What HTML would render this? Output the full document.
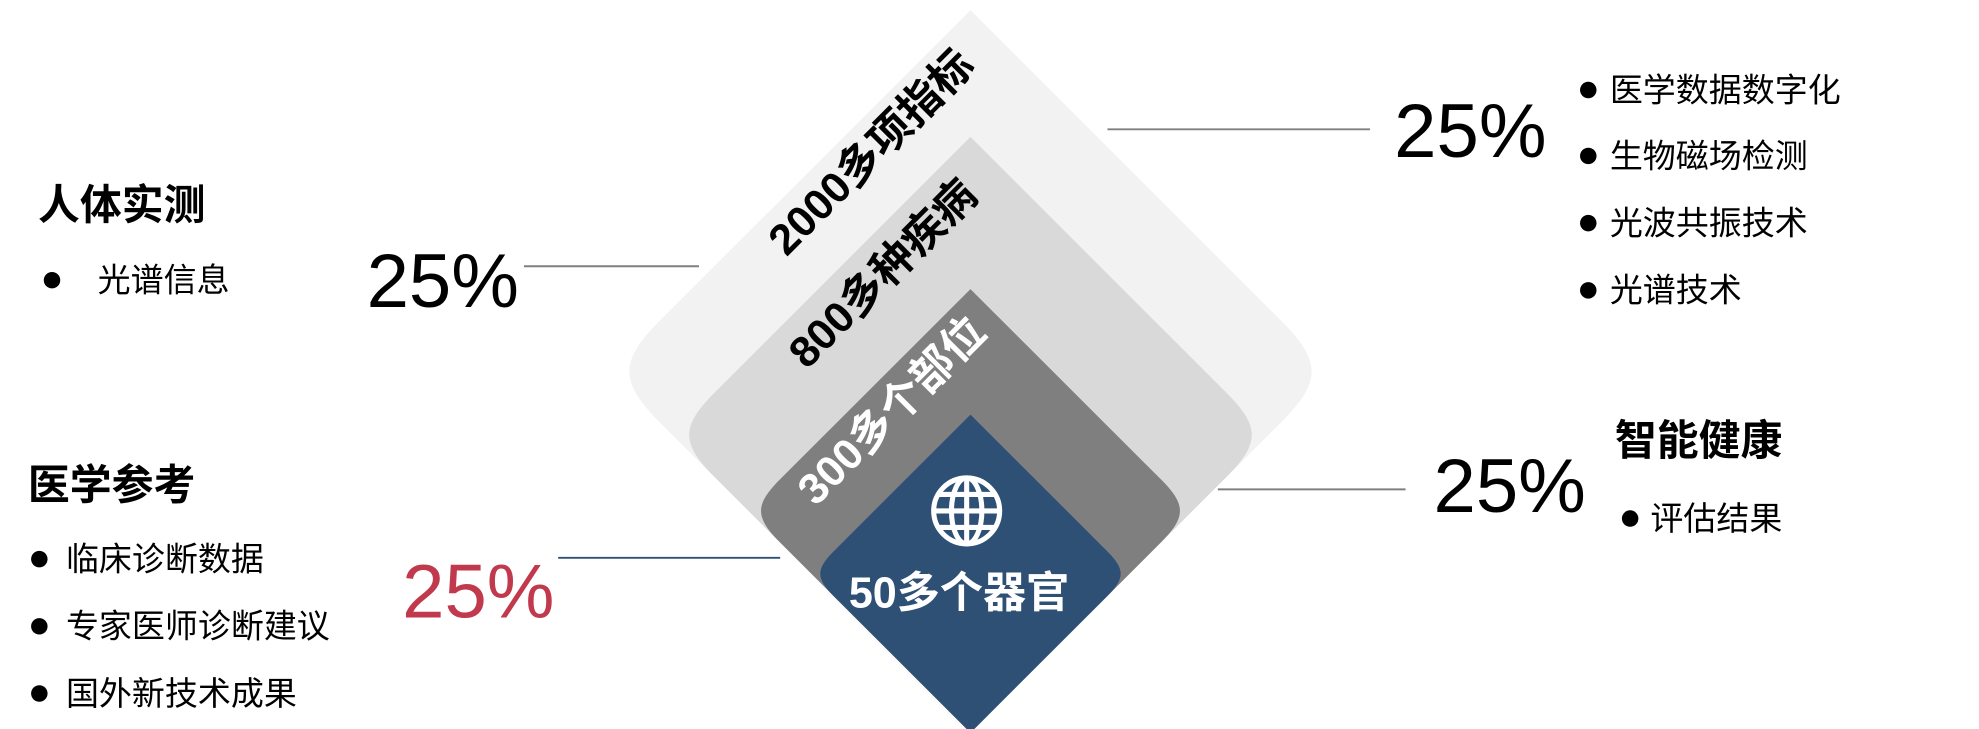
<!DOCTYPE html>
<html><head><meta charset="utf-8"><style>
html,body{margin:0;padding:0;background:#fff;}
svg{display:block;}
text{font-family:"Liberation Sans","Noto Sans CJK SC",sans-serif;}
</style></head><body>
<svg id="chart" width="1979" height="729" viewBox="0 0 1560 575" preserveAspectRatio="none" xmlns="http://www.w3.org/2000/svg">
<g id="layers"></g>
<g id="lines"></g>
<g id="labels"></g>
</svg>
<script>
const layerNames = ["2000多项指标","800多种疾病","300多个部位","50多个器官"];
const layerHalf = [285, 235, 175, 125.5];
const layerColors = ["#f2f2f2","#d9d9d9","#7f7f7f","#2e5075"];
const pctValues = ["25%","25%","25%","25%"];
const NS="http://www.w3.org/2000/svg";
const cx=765, bottom=578;
function mk(tag,attrs,parent){const e=document.createElementNS(NS,tag);for(const k in attrs)e.setAttribute(k,attrs[k]);parent.appendChild(e);return e;}
const gL=document.getElementById('layers');
const labelStart=[[620,203],[636,292],[643,400]];
layerNames.forEach((name,i)=>{
  const h=layerHalf[i], cy=bottom-h, top=cy-h, d=h*0.2;
  const k=d/Math.SQRT2, c=k*0.2;
  const p=`M${cx},${top} L${cx+h-k},${cy-k} C${cx+h-c},${cy-c} ${cx+h-c},${cy+c} ${cx+h-k},${cy+k} L${cx},${bottom} L${cx-h+k},${cy+k} C${cx-h+c},${cy+c} ${cx-h+c},${cy-c} ${cx-h+k},${cy-k} Z`;
  const el=mk('path',{d:p,fill:layerColors[i]},gL);
  
  
  if(i<3){
    const s=labelStart[i];
    const t=mk('text',{x:0,y:0,transform:`translate(${s[0]},${s[1]}) rotate(-45)`,'font-size':34,'font-weight':'bold',fill:i==2?'#fff':'#000'},gL);
    t.textContent=name;
    
    
  } else {
    const t=mk('text',{x:cx-9,y:479,'text-anchor':'middle','font-size':34,'font-weight':'bold',fill:'#fff'},gL);
    t.textContent=name;
    
    
  }
});
const g=mk('g',{stroke:'#fff','stroke-width':4,fill:'none'},gL);


mk('circle',{cx:762,cy:403,r:26},g);
mk('ellipse',{cx:762,cy:403,rx:12,ry:26},g);
mk('line',{x1:762,y1:377,x2:762,y2:429},g);
mk('line',{x1:736,y1:403,x2:788,y2:403},g);
mk('line',{x1:740,y1:390,x2:784,y2:390},g);
mk('line',{x1:740,y1:416,x2:784,y2:416},g);
const gLn=document.getElementById('lines');
[[873,1080,102,'#808080'],[413,551,210,'#808080'],[960,1108,386,'#808080'],[440,615,440,'#2e5075']].forEach((l,i)=>{
  const e=mk('line',{x1:l[0],x2:l[1],y1:l[2],y2:l[2],stroke:l[3],'stroke-width':1.5},gLn);
  
  
});
const pctPos=[[1099,124,'#000'],[289,242,'#000'],[1130,404,'#000'],[317,487,'#c0394d']];
pctPos.forEach((p,i)=>{
  const t=mk('text',{x:p[0],y:p[1],'font-size':60,fill:p[2]},gLn);
  t.textContent=pctValues[i];
  
  
});
const gT=document.getElementById('labels');
function title(txt,x,y,name){const t=mk('text',{x:x,y:y,'font-size':33,'font-weight':'bold',fill:'#000'},gT);t.textContent=txt;}
function item(txt,bx,tx,y,name){
  const c=mk('circle',{cx:bx,cy:y-9,r:6.5,fill:'#000'},gT);
  
  
  const t=mk('text',{x:tx,y:y,'font-size':26,fill:'#000'},gT);t.textContent=txt;
  
  
}
title('人体实测',30,173,'title-body-measure');
item('光谱信息',41,77,230,'item-spectral-info');
title('医学参考',22,394,'title-medical-reference');
item('临床诊断数据',31,52,450,'item-clinical-data');
item('专家医师诊断建议',31,52,503,'item-expert-advice');
item('国外新技术成果',31,52,556,'item-foreign-tech');
item('医学数据数字化',1252,1269,80,'item-data-digitization');
item('生物磁场检测',1252,1269,132,'item-biomagnetic');
item('光波共振技术',1252,1269,185,'item-light-resonance');
item('光谱技术',1252,1269,238,'item-spectral-tech');
title('智能健康',1273,359,'title-smart-health');
item('评估结果',1285,1301,418,'item-assessment');
</script>
</body></html>
